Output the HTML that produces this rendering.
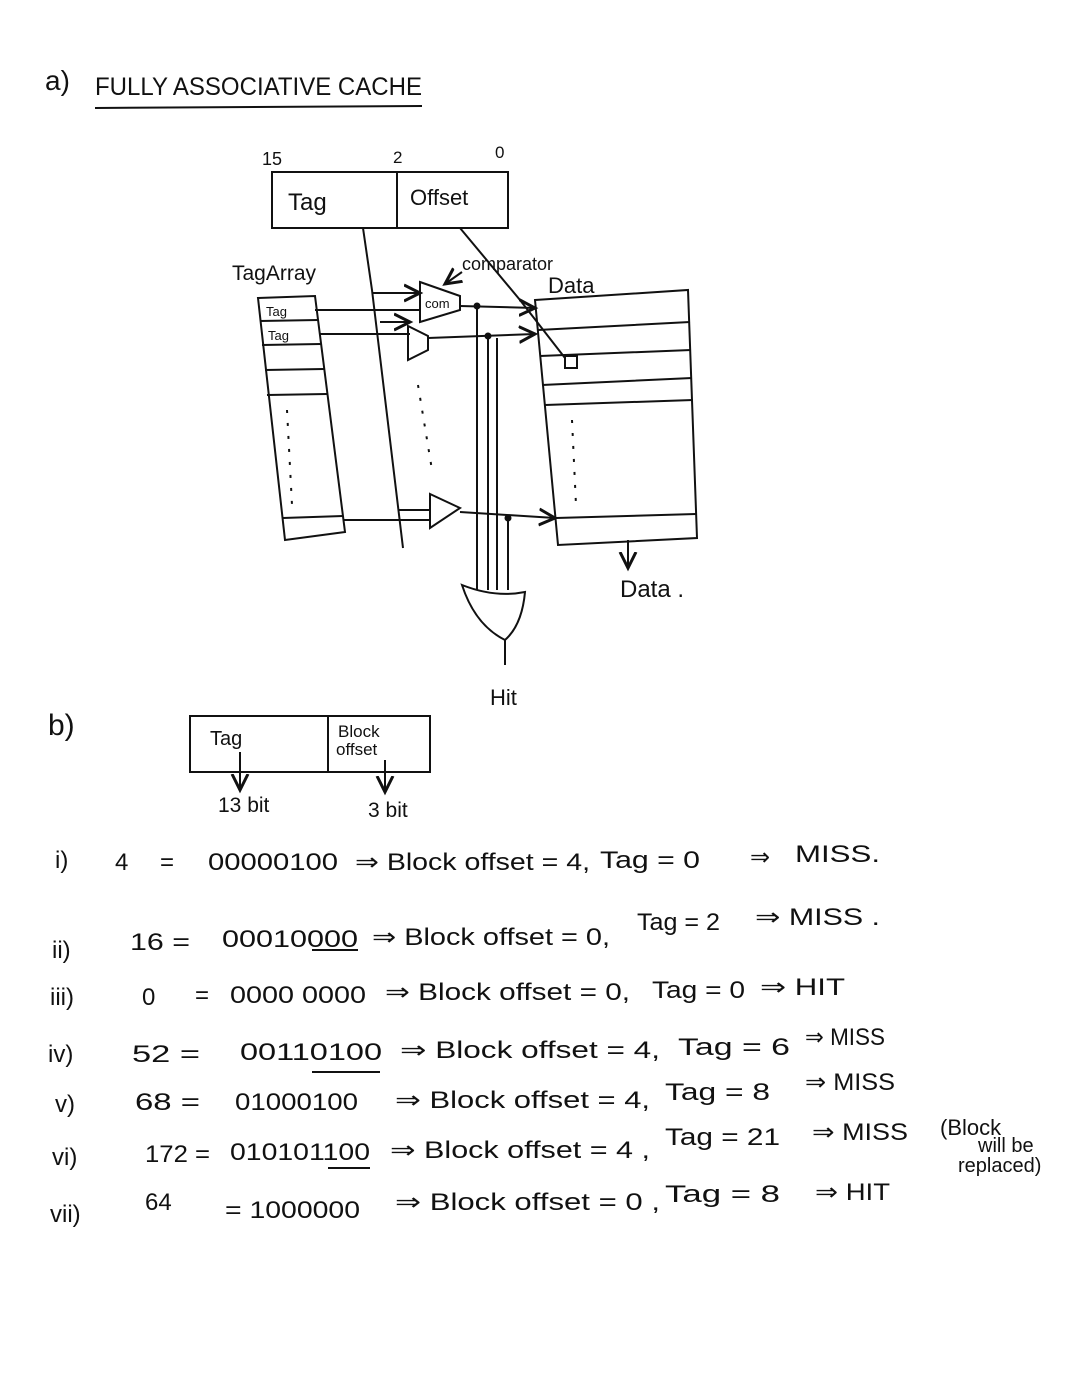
<!DOCTYPE html>
<html><head><meta charset="utf-8"><style>
html,body{margin:0;padding:0;background:#fff;}
svg{display:block}
text{font-family:"Liberation Sans",sans-serif;fill:#111;}
</style></head><body>
<svg width="1080" height="1378" viewBox="0 0 1080 1378" xmlns="http://www.w3.org/2000/svg">
<rect width="1080" height="1378" fill="#fff"/>
<defs><marker id="a" markerWidth="10" markerHeight="10" refX="8" refY="5" orient="auto"><path d="M0,1 L8,5 L0,9" fill="none" stroke="#111" stroke-width="1.5"/></marker></defs>
<g stroke="#111" stroke-width="2" fill="none">
<path d="M95,108 L422,106"/>
<rect x="272" y="172" width="236" height="56"/>
<path d="M397,172 L397,228"/>
<path d="M258,298 L315,296 L345,532 L285,540 Z"/>
<path d="M260,321 L318,320 M262,345 L321,344 M265,370 L324,369 M267,395 L327,394 M283,518 L343,516"/>
<path d="M363,228 L372,290 L403,548"/>
<path d="M372,293 L420,293" marker-end="url(#a)"/>
<path d="M380,322 L410,322" marker-end="url(#a)"/>
<path d="M398,510 L430,510"/>
<path d="M420,282 L460,296 L460,310 L420,322 Z"/>
<path d="M408,326 L428,336 L428,350 L408,360 Z"/>
<path d="M430,494 L460,508 L430,528 Z"/>
<path d="M315,310 L420,310"/>
<path d="M320,334 L410,334"/>
<path d="M343,520 L430,520"/>
<path d="M460,306 L535,308" marker-end="url(#a)"/>
<path d="M428,338 L535,334" marker-end="url(#a)"/>
<path d="M460,512 L555,518" marker-end="url(#a)"/>
<path d="M477,306 L477,590 M488,336 L488,590 M497,338 L497,590 M508,518 L508,590"/>
<circle cx="477" cy="306" r="2.5" fill="#111"/><circle cx="488" cy="336" r="2.5" fill="#111"/><circle cx="508" cy="518" r="2.5" fill="#111"/>
<path d="M462,585 Q495,598 525,592 Q522,625 505,640 Q475,625 462,585 Z"/>
<path d="M505,640 L505,665"/>
<path d="M460,228 L520,300 L565,358" />
<rect x="565" y="356" width="12" height="12"/>
<path d="M462,272 L445,284" marker-end="url(#a)"/>
<path d="M535,300 L688,290 L697,538 L558,545 Z"/>
<path d="M538,330 L690,322 M540,356 L691,350 M542,385 L692,378 M545,405 L693,400 M556,518 L696,514"/>
<path d="M628,540 L628,568" marker-end="url(#a)"/>
<rect x="190" y="716" width="240" height="56"/>
<path d="M328,716 L328,772"/>
<path d="M240,752 L240,790" marker-end="url(#a)"/>
<path d="M385,760 L385,792" marker-end="url(#a)"/>
<path d="M312,950 L358,950 M312,1072 L380,1072 M328,1168 L370,1168"/>
</g>
<g stroke="#111" stroke-width="2" stroke-dasharray="3,10">
<path d="M287,410 L292,505"/><path d="M418,385 L432,470"/><path d="M572,420 L576,505"/>
</g>
<text x="45" y="90" font-size="28">a)</text>
<text x="95" y="95" font-size="25" textLength="327" lengthAdjust="spacingAndGlyphs">FULLY ASSOCIATIVE CACHE</text>
<text x="262" y="165" font-size="18">15</text>
<text x="393" y="163" font-size="17">2</text>
<text x="495" y="158" font-size="17">0</text>
<text x="288" y="210" font-size="24">Tag</text>
<text x="410" y="205" font-size="22">Offset</text>
<text x="232" y="280" font-size="21">TagArray</text>
<text x="266" y="316" font-size="13">Tag</text>
<text x="268" y="340" font-size="13">Tag</text>
<text x="425" y="308" font-size="13">com</text>
<text x="462" y="270" font-size="18">comparator</text>
<text x="548" y="293" font-size="22">Data</text>
<text x="620" y="597" font-size="24">Data .</text>
<text x="490" y="705" font-size="22">Hit</text>
<text x="48" y="735" font-size="30">b)</text>
<text x="210" y="745" font-size="20">Tag</text>
<text x="338" y="737" font-size="17">Block</text>
<text x="336" y="755" font-size="17">offset</text>
<text x="218" y="812" font-size="21">13 bit</text>
<text x="368" y="817" font-size="21">3 bit</text>
<g font-size="24">
<text x="55" y="868">i)</text><text x="115" y="870">4</text><text x="160" y="870">=</text>
<text x="208" y="870" textLength="130" lengthAdjust="spacingAndGlyphs">00000100</text>
<text x="355" y="870" textLength="235" lengthAdjust="spacingAndGlyphs">⇒ Block offset = 4,</text>
<text x="600" y="868" textLength="100" lengthAdjust="spacingAndGlyphs">Tag = 0</text>
<text x="750" y="865">⇒</text><text x="795" y="862" textLength="85" lengthAdjust="spacingAndGlyphs">MISS.</text>

<text x="52" y="958">ii)</text><text x="130" y="950" textLength="60" lengthAdjust="spacingAndGlyphs">16 =</text>
<text x="222" y="947" textLength="136" lengthAdjust="spacingAndGlyphs">00010000</text>
<text x="372" y="945" textLength="238" lengthAdjust="spacingAndGlyphs">⇒ Block offset = 0,</text>
<text x="637" y="930" textLength="83" lengthAdjust="spacingAndGlyphs">Tag = 2</text>
<text x="755" y="925" textLength="125" lengthAdjust="spacingAndGlyphs">⇒ MISS .</text>

<text x="50" y="1005">iii)</text><text x="142" y="1005">0</text><text x="195" y="1003">=</text>
<text x="230" y="1003" textLength="136" lengthAdjust="spacingAndGlyphs">0000 0000</text>
<text x="385" y="1000" textLength="245" lengthAdjust="spacingAndGlyphs">⇒ Block offset = 0,</text>
<text x="652" y="998" textLength="93" lengthAdjust="spacingAndGlyphs">Tag = 0</text>
<text x="760" y="995" textLength="85" lengthAdjust="spacingAndGlyphs">⇒ HIT</text>

<text x="48" y="1062">iv)</text><text x="132" y="1062" textLength="68" lengthAdjust="spacingAndGlyphs">52 =</text>
<text x="240" y="1060" textLength="142" lengthAdjust="spacingAndGlyphs">00110100</text>
<text x="400" y="1058" textLength="260" lengthAdjust="spacingAndGlyphs">⇒ Block offset = 4,</text>
<text x="678" y="1055" textLength="112" lengthAdjust="spacingAndGlyphs">Tag =  6</text>
<text x="805" y="1045" textLength="80" lengthAdjust="spacingAndGlyphs">⇒ MISS</text>

<text x="55" y="1112">v)</text><text x="135" y="1110" textLength="65" lengthAdjust="spacingAndGlyphs">68 =</text>
<text x="235" y="1110" textLength="123" lengthAdjust="spacingAndGlyphs">01000100</text>
<text x="395" y="1108" textLength="255" lengthAdjust="spacingAndGlyphs">⇒ Block offset = 4,</text>
<text x="665" y="1100" textLength="105" lengthAdjust="spacingAndGlyphs">Tag =  8</text>
<text x="805" y="1090" textLength="90" lengthAdjust="spacingAndGlyphs">⇒ MISS</text>

<text x="52" y="1165">vi)</text><text x="145" y="1162" textLength="65" lengthAdjust="spacingAndGlyphs">172 =</text>
<text x="230" y="1160" textLength="140" lengthAdjust="spacingAndGlyphs">010101100</text>
<text x="390" y="1158" textLength="260" lengthAdjust="spacingAndGlyphs">⇒ Block offset = 4 ,</text>
<text x="665" y="1145" textLength="115" lengthAdjust="spacingAndGlyphs">Tag = 21</text>
<text x="812" y="1140" textLength="96" lengthAdjust="spacingAndGlyphs">⇒ MISS</text>

<text x="50" y="1222">vii)</text><text x="145" y="1210">64</text>
<text x="225" y="1218" textLength="135" lengthAdjust="spacingAndGlyphs">= 1000000</text>
<text x="395" y="1210" textLength="265" lengthAdjust="spacingAndGlyphs">⇒ Block offset = 0 ,</text>
<text x="665" y="1202" textLength="115" lengthAdjust="spacingAndGlyphs">Tag = 8</text>
<text x="815" y="1200" textLength="75" lengthAdjust="spacingAndGlyphs">⇒ HIT</text>
</g>
<text x="940" y="1135" font-size="22">(Block</text>
<text x="978" y="1152" font-size="20">will be</text>
<text x="958" y="1172" font-size="20">replaced)</text>
</svg>
</body></html>
